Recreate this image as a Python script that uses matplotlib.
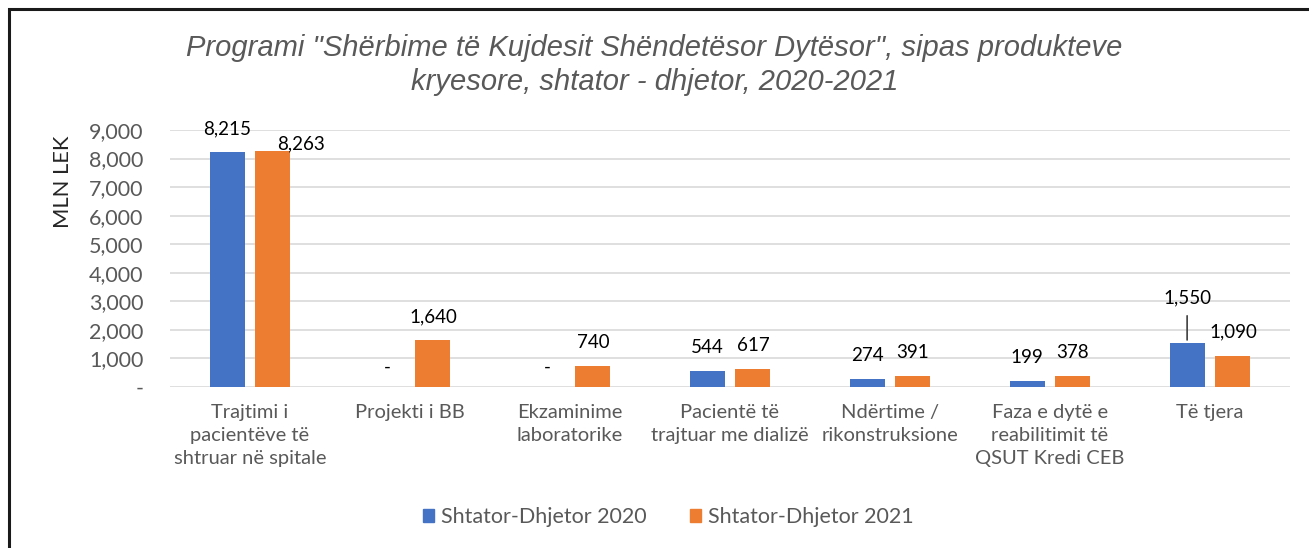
import matplotlib
matplotlib.use("Agg")
import matplotlib.pyplot as plt
import numpy as np
from matplotlib.patches import Rectangle, Patch
from matplotlib.ticker import FuncFormatter

categories = [
    "Trajtimi i\npacientëve të\nshtruar në spitale",
    "Projekti i BB",
    "Ekzaminime\nlaboratorike",
    "Pacientë të\ntrajtuar me dializë",
    "Ndërtime /\nrikonstruksione",
    "Faza e dytë e\nreabilitimit të\nQSUT Kredi CEB",
    "Të tjera",
]
series_names = ["Shtator-Dhjetor 2020", "Shtator-Dhjetor 2021"]
values_2020 = [8215, 0, 0, 544, 274, 199, 1550]
values_2021 = [8263, 1640, 740, 617, 391, 378, 1090]
yticks = [0, 1000, 2000, 3000, 4000, 5000, 6000, 7000, 8000, 9000]

title = 'Programi "Shërbime të Kujdesit Shëndetësor Dytësor", sipas produkteve\nkryesore, shtator - dhjetor, 2020-2021'

BLUE = "#4472C4"
ORANGE = "#ED7D31"
GRAY = "#595959"
FONT = "Lato"

W, H = 1309, 548
fig = plt.figure(figsize=(W / 100, H / 100), dpi=100)
fig.patch.set_facecolor("white")

# Axes placement in pixels
x0, x1 = 170, 1290
y0, y1 = 387, 130  # pixel rows for 0 and 9000
ax = fig.add_axes([x0 / W, 1 - y0 / H, (x1 - x0) / W, (y0 - y1) / H])
ax.set_xlim(-0.5, len(categories) - 0.5)
ax.set_ylim(0, 9000)

bw = 0.22
off = 0.143
x = np.arange(len(categories))
b1 = ax.bar(x - off, values_2020, bw, color=BLUE, zorder=3)
b2 = ax.bar(x + off, values_2021, bw, color=ORANGE, zorder=3)

ax.set_yticks(yticks)
ax.yaxis.set_major_formatter(FuncFormatter(lambda v, p: "-" if v == 0 else f"{int(v):,}"))
ax.grid(axis="y", color="#D9D9D9", linewidth=1.2, zorder=0)
for s in ax.spines.values():
    s.set_visible(False)
ax.tick_params(axis="both", length=0, colors=GRAY)
ax.tick_params(axis="y", pad=19, labelsize=15.5)
ax.tick_params(axis="x", pad=12, labelsize=14.5)
ax.set_xticks(x)
ax.set_xticklabels(categories, fontfamily=FONT, linespacing=1.45)
for lab in ax.get_yticklabels():
    lab.set_fontfamily(FONT)
ax.set_ylabel("MLN LEK", fontsize=15.8, color="#262626", fontfamily=FONT)
ax.yaxis.set_label_coords((73 - x0) / (x1 - x0), 0.80)

# Data labels (default offsets in points, special ones adjusted)
label_offsets = {
    (1, 0): (20, -1),
    (0, 6): (0, 26),
}

def fmt(v):
    return "-" if v == 0 else f"{v:,}"

for si, (bars, vals) in enumerate([(b1, values_2020), (b2, values_2021)]):
    for ci, (rect, v) in enumerate(zip(bars, vals)):
        cx = rect.get_x() + rect.get_width() / 2
        dx, dy = label_offsets.get((si, ci), (0, 11 if v > 0 else 8))
        ax.annotate(fmt(v), (cx, v), xytext=(dx, dy), textcoords="offset points",
                    ha="center", va="bottom", fontsize=13.5, color="#000000",
                    fontfamily=FONT, zorder=5)

# leader line for 1,550
ax.annotate("", xy=(x[6] - off, values_2020[6]), xytext=(x[6] - off, 2590),
            arrowprops=dict(arrowstyle="-", color="#404040", lw=1.2), zorder=4)

fig.text(0.5, 1 - 65 / H, title, ha="center", va="center", fontsize=21,
         style="italic", color=GRAY, fontfamily="Liberation Sans", linespacing=1.25)

handles = [Patch(color=BLUE), Patch(color=ORANGE)]
fig.legend(handles, series_names, loc="center", bbox_to_anchor=(668 / W, 1 - 517 / H),
           ncol=2, frameon=False, prop={"family": FONT, "size": 15.5},
           handlelength=0.55, handleheight=0.55, handletextpad=0.3, columnspacing=2.0,
           labelcolor=GRAY)

# Outer border (top & left visible)
fig.patches.append(Rectangle((9 / W, -0.1), 1.2, 1 - 9 / H + 0.1, transform=fig.transFigure,
                             fill=False, edgecolor="#1a1a1a", linewidth=2.2, figure=fig))

fig.savefig("out.png", dpi=100)
